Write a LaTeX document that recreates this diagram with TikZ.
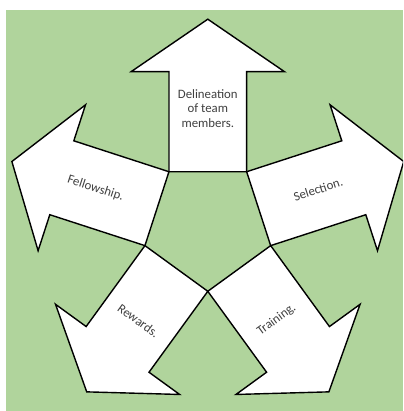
\documentclass[tikz,border=0pt]{standalone}
\usepackage{fontspec}
\setmainfont{Carlito}
\definecolor{bggreen}{RGB}{176,212,156}
\definecolor{txtgray}{RGB}{64,64,64}
\begin{document}
\begin{tikzpicture}[x=1pt,y=1pt,
  arrowshape/.style={draw=black,fill=white,line width=1.4pt,line join=miter},
  lbl/.style={text=txtgray,font=\fontsize{12.8}{14.5}\selectfont,align=center,inner sep=0pt}]
\useasboundingbox (-207.8,-185.8) rectangle (195.2,225.2);
\begin{scope}
\clip (-207.8,-185.8) rectangle (195.2,225.2);
\fill[bggreen] (-201.8,-185.8) rectangle (195.2,215.2);
\foreach \ang in {90,18,-54,-126,162}{
  \draw[arrowshape,rotate=\ang]
    (53.47,-38.85) -- (153.5,-38.85) -- (153.5,-76.7) -- (206,0)
    -- (153.5,76.7) -- (153.5,38.85) -- (53.47,38.85) -- cycle;
}
\end{scope}
\node[lbl] (deli) at (90:117) {Delineation\\of team\\members.};
\node[lbl,rotate=18] (sel) at (18:116) {Selection.};
\node[lbl,rotate=36] (train) at (-54:117) {Training.};
\node[lbl,rotate=-36] (rew) at (-126:118) {Rewards.};
\node[lbl,rotate=-18] (fel) at (162:118) {Fellowship.};
\end{tikzpicture}
\end{document}
